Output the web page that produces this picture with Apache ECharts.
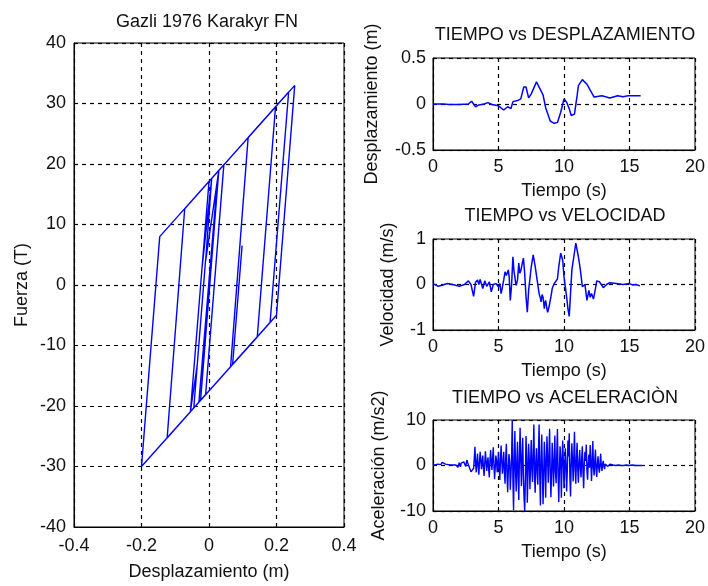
<!DOCTYPE html>
<html>
<head>
<meta charset="utf-8">
<script src="https://cdn.jsdelivr.net/npm/echarts@6/dist/echarts.min.js"></script>
<style>
  html, body { margin: 0; padding: 0; background: #fff; }
  #chart { width: 708px; height: 586px; }
</style>
</head>
<body>
<div id="chart"></div>
<script>
// Hysteresis path: displacement (m) and force (T), in loading order
const hystDisp = [0, 0.018, -0.014, 0.022, -0.030, -0.045, -0.010, -0.035, -0.055, 0.000,
  -0.020, 0.008, -0.010, 0.029, -0.025, 0.005, -0.015, 0.029, 0.197, 0.143,
  0.064, 0.116, 0.236, 0.181, -0.200, -0.146, 0.044, -0.010, -0.124, -0.072,
  0.254, 0.200, 0.070, 0.098, 0.085, 0.095, 0.090];
const hystForce = [0, 12.6, -9.8, 15.4, -19.4, -20.3, 4.2, -13.3, -20.9, 17.1,
  3.1, 17.6, 4.0, 18.9, -19.1, 2.0, -11.9, 18.9, 29.4, -8.6,
  -13.5, 24.4, 31.9, -6.2, -30.0, 8.0, 19.9, -18.1, -25.3, 12.6,
  33.0, -5.0, -13.1, 6.5, -2.6, 4.4, 0.9];

// Displacement time history
const dispTime = [0, 0.8, 0.95, 1.2, 2.0, 2.7, 2.95, 3.1, 3.25, 3.5,
  3.9, 4.2, 4.5, 5.0, 5.4, 5.7, 5.95, 6.1, 6.45, 6.7,
  6.93, 7.1, 7.3, 7.5, 7.9, 8.05, 8.4, 8.6, 8.95, 9.25,
  9.5, 9.75, 10.0, 10.2, 10.4, 10.55, 10.8, 11.0, 11.1, 11.4,
  11.75, 12.0, 12.3, 12.9, 13.5, 14.1, 14.5, 14.9, 15.25, 15.85];
const dispValue = [0, 0, -0.015, -0.005, -0.005, 0, 0.03, 0.0, -0.03, -0.01,
  0, 0.015, -0.005, -0.02, -0.065, -0.03, -0.05, 0.026, 0.037, 0.055,
  0.185, 0.185, 0.067, 0.11, 0.24, 0.225, 0.1, -0.04, -0.185, -0.21,
  -0.2, -0.09, 0.055, 0.02, -0.05, -0.125, -0.11, 0.09, 0.2, 0.265,
  0.215, 0.15, 0.075, 0.09, 0.065, 0.09, 0.08, 0.09, 0.09, 0.09];

// Velocity time history
const velTime = [0, 0.4, 0.75, 1.1, 1.5, 2.0, 2.4, 2.7, 2.9, 3.1,
  3.25, 3.4, 3.5, 3.6, 3.8, 3.95, 4.1, 4.3, 4.45, 4.6,
  4.8, 5.0, 5.1, 5.2, 5.3, 5.4, 5.5, 5.6, 5.75, 5.82,
  5.9, 6.0, 6.1, 6.18, 6.25, 6.3, 6.35, 6.45, 6.55, 6.62,
  6.7, 6.9, 7.0, 7.1, 7.2, 7.3, 7.5, 7.65, 7.8, 7.95,
  8.1, 8.2, 8.25, 8.33, 8.4, 8.5, 8.55, 8.6, 8.68, 8.75,
  8.85, 9.0, 9.1, 9.25, 9.4, 9.5, 9.6, 9.75, 9.9, 10.0,
  10.2, 10.3, 10.4, 10.5, 10.6, 10.75, 10.9, 11.0, 11.1, 11.25,
  11.4, 11.6, 11.75, 11.9, 12.0, 12.1, 12.25, 12.4, 12.5, 12.7,
  12.85, 13.0, 13.25, 13.5, 14.0, 14.5, 15.0, 15.25, 15.5, 15.8];
const velValue = [0.02, -0.04, -0.01, 0.02, 0, -0.04, 0, 0.08, 0, -0.26,
  0.05, 0.1, 0, 0.11, -0.09, 0.08, -0.04, 0.06, -0.16, 0,
  0.02, -0.05, 0.02, -0.2, -0.05, 0.1, 0.28, 0.2, 0.32, 0.15,
  -0.35, 0, 0.61, 0.3, 0.17, 0.05, -0.02, 0.1, 0.47, 0.25,
  0.3, 0.58, 0.25, -0.27, -0.61, -0.13, 0.39, 0.65, 0.4, 0.1,
  -0.2, -0.3, -0.38, -0.22, -0.28, -0.53, -0.4, -0.35, -0.5, -0.61,
  -0.5, -0.27, -0.09, 0.02, 0.05, 0.12, 0.39, 0.69, 0.54, 0.17,
  -0.27, -0.53, -0.7, -0.2, 0.32, 0.61, 0.91, 0.87, 0.61, 0.32,
  -0.05, 0, -0.35, -0.13, -0.28, -0.2, -0.32, -0.09, 0.08, 0.06,
  0.0, -0.07, 0, 0.04, 0.02, 0, 0.02, -0.01, 0, -0.03];

// Ground acceleration (m/s2), sampled every ACC_DT seconds from t = 0
const ACC_DT = 0.05;
const accValue = [
  0, 0, 0.1, 0, 0.2, 0.1, -0.1, 0.2, 0.3, 0.5, 0.6, 0.3, 0.2, 0.5, 0.7, 0.4, 0.4, 0.6, 0.6, 0.3,
  0.3, 0.5, 0.5, 0.2, -0.2, 0.3, 0.4, 0.1, 0.1, 0.5, 0.5, 0.1, -0.3, 0.2, 0.3, 0.1, 0.2, 0.4, -0.4, 0.1,
  0.6, 0.2, -0.3, 0.5, 0.9, 0.3, 0.4, 0.8, 1.1, 0.5, -0.2, 0.7, 1.2, 0.6, 0.8, 0.2, -0.6, -0.9, -1.4, -1.0,
  -1.8, -1.2, -0.6, 1.5, 4.1, 0.5, -1.5, 1.0, 2.6, -0.4, -2.0, 0.8, 3.0, 1.2, -0.8, 0.9, 2.2, -0.6, -2.3, 0.5,
  3.1, 1.0, -1.2, 0.6, 1.8, -0.9, -2.6, 1.2, 3.4, 0.8, -1.0, 1.5, 4.0, 0.2, -3.0, -0.5, 2.2, 1.0, -1.5, 0.4,
  3.0, -0.6, -3.2, 1.2, 4.4, 1.0, -1.8, 0.5, 3.0, -1.5, -4.0, 1.6, 4.8, -2.0, -5.9, -1.0, 2.5, 0.8, -5.3, -2.0,
  2.0, 10.0, -3.0, -9.8, 1.5, 7.6, -1.0, -5.7, 0.8, 5.2, -3.0, -7.6, 2.5, 8.3, 1.0, -4.5, 2.0, 6.1, -2.5, -7.0,
  -10.0, -3.0, 6.5, 2.0, -8.2, -1.5, 4.8, 1.0, -5.2, 0.5, 5.6, -1.0, -3.6, 3.0, 9.0, -2.0, -6.0, 1.0, 3.8, -1.5,
  -4.2, 3.0, 9.0, -2.5, -8.8, 1.5, 6.8, -1.0, -8.5, -2.0, 5.2, 1.0, -7.1, 0.5, 6.4, 1.5, -3.8, 2.0, 8.1, -1.0,
  -7.0, -2.0, 5.0, 1.0, -4.6, 0.5, 6.6, -1.5, -3.9, 2.5, 8.0, -2.0, -8.0, -1.0, 4.2, 1.5, -7.1, 0.5, 5.5, 1.0,
  -5.0, -1.0, 3.8, 0.5, -5.7, -1.5, 5.5, 2.0, 7.1, -2.5, -6.8, 0.5, 4.9, 1.0, -3.5, 2.0, 7.4, -1.0, -4.0, 1.5,
  5.0, -1.0, -3.8, 1.0, 3.4, -0.5, -2.6, 1.5, 4.2, -1.5, -5.0, 0.5, 3.0, 1.0, 4.6, -1.0, -3.1, 0.5, 2.4, -0.5,
  4.5, 1.0, -3.4, 0.5, 5.4, -0.5, -2.2, 1.0, 3.5, -1.0, -2.5, 0.5, 2.0, -0.5, -1.6, 0.5, 2.6, -0.3, -1.2, 0.4,
  1.0, -0.3, -0.8, 0.3, 0.6, 0.1, 0.4, -0.2, -0.3, 0.1, 0.3, 0.0, 0.1, 0.0, 0.0, 0.1, 0.1, 0.0, 0.0, 0.0,
  0.1, 0.0, 0.0, 0.1, 0.1, 0.0, 0.0, 0.0, 0.0, 0.1, 0.1, 0.0, 0.0, 0.0, 0.0, 0.1, 0.0, 0.0, 0.1, 0.0,
  0.3, 0.1, 0.0, 0.0, 0.1, 0.0, 0.0, 0.0, 0.0, 0.0, 0.0, 0.0, 0.1, 0.0, 0.0, 0.0, 0.0, 0.0, 0.0, 0.0];

// Axis ranges and tick steps
const hystXTicks = { min: -0.4, max: 0.4, interval: 0.2 };
const hystYTicks = { min: -40, max: 40, interval: 10 };
const timeTicks = { min: 0, max: 20, interval: 5 };
const dispTicks = { min: -0.5, max: 0.5, interval: 0.5 };
const velTicks = { min: -1, max: 1, interval: 1 };
const accTicks = { min: -10, max: 10, interval: 10 };

const FONT = '"Liberation Sans", Arial, Helvetica, sans-serif';
const TXT = { color: '#111', fontFamily: FONT, fontSize: 18 };
const LINE_BLUE = '#0000ff';

const zip = (a, b) => a.map((v, i) => [v, b[i]]);
const accPairs = accValue.map((v, i) => [+(i * ACC_DT).toFixed(2), v]);

function axis(ticks, gridIndex, name, nameGap, labelMargin) {
  return {
    type: 'value', gridIndex, min: ticks.min, max: ticks.max, interval: ticks.interval,
    name, nameLocation: 'middle', nameGap,
    nameTextStyle: Object.assign({}, TXT),
    axisLine: { show: true, onZero: false, lineStyle: { color: '#000', width: 1 } },
    axisTick: { show: true, inside: true, length: 4, lineStyle: { color: '#000' } },
    axisLabel: Object.assign({ margin: labelMargin }, TXT),
    splitLine: { show: true, lineStyle: { color: '#000', width: 1.2, type: [4, 4] } }
  };
}

function lineSeries(data, idx, width) {
  return {
    type: 'line', xAxisIndex: idx, yAxisIndex: idx, data,
    showSymbol: false, symbol: 'none', silent: true,
    lineStyle: { color: LINE_BLUE, width }
  };
}

function title(text, cx, top) {
  return { text, left: cx, top, textAlign: 'center', padding: 0,
    textStyle: Object.assign({ fontWeight: 'normal' }, TXT) };
}

const chart = echarts.init(document.getElementById('chart'), null, { renderer: 'canvas' });
chart.setOption({
  animation: false,
  backgroundColor: '#fff',
  title: [
    title('Gazli 1976 Karakyr FN', 207, 13),
    title('TIEMPO vs DESPLAZAMIENTO', 565, 26),
    title('TIEMPO vs VELOCIDAD', 565, 207),
    title('TIEMPO vs ACELERACIÒN', 565, 389)
  ],
  grid: [
    { left: 74, top: 43, width: 270, height: 489, show: true, borderColor: '#000', borderWidth: 1, backgroundColor: '#fff' },
    { left: 433, top: 58, width: 266, height: 92, show: true, borderColor: '#000', borderWidth: 1, backgroundColor: '#fff' },
    { left: 433, top: 239, width: 266, height: 91, show: true, borderColor: '#000', borderWidth: 1, backgroundColor: '#fff' },
    { left: 433, top: 420, width: 266, height: 91, show: true, borderColor: '#000', borderWidth: 1, backgroundColor: '#fff' }
  ],
  xAxis: [
    axis(hystXTicks, 0, 'Desplazamiento (m)', 36, 10),
    axis(timeTicks, 1, 'Tiempo (s)', 32, 8),
    axis(timeTicks, 2, 'Tiempo (s)', 32, 8),
    axis(timeTicks, 3, 'Tiempo (s)', 32, 8)
  ],
  yAxis: [
    axis(hystYTicks, 0, 'Fuerza (T)', 43, 8),
    axis(dispTicks, 1, 'Desplazamiento (m)', 52, 7),
    axis(velTicks, 2, 'Velocidad (m/s)', 36, 7),
    axis(accTicks, 3, 'Aceleración (m/s2)', 45, 7)
  ],
  series: [
    lineSeries(zip(hystDisp, hystForce), 0, 1.4),
    lineSeries(zip(dispTime, dispValue), 1, 1.5),
    lineSeries(zip(velTime, velValue), 2, 1.5),
    lineSeries(accPairs, 3, 1.4)
  ]
});
</script>
</body>
</html>
